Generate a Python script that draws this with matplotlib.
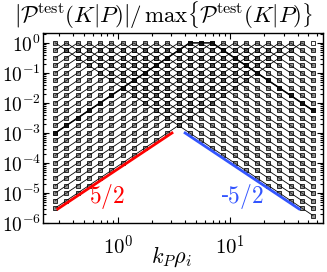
import matplotlib
matplotlib.use('Agg')
import matplotlib.pyplot as plt

plt.rcParams['mathtext.fontset'] = 'cm'
plt.rcParams['font.family'] = ['DejaVu Serif']

# k_P rho_i grid (24 columns)
kp = [0.2754, 0.3467, 0.4365, 0.5495, 0.6918, 0.8710, 1.0965, 1.3804,
      1.7378, 2.1878, 2.7542, 3.4674, 4.3652, 5.4954, 6.9183, 8.7096,
      10.965, 13.804, 17.378, 21.878, 27.542, 34.674, 43.652, 54.954]

# normalised values (one row per 1/4 decade)
levels = [1.0, 5.623e-1, 3.162e-1, 1.778e-1, 1e-1, 5.623e-2, 3.162e-2,
          1.778e-2, 1e-2, 5.623e-3, 3.162e-3, 1.778e-3, 1e-3, 5.623e-4,
          3.162e-4, 1.778e-4, 1e-4, 5.623e-5, 3.162e-5, 1.778e-5, 1e-5,
          5.623e-6, 3.162e-6, 1.778e-6]

# column where each K curve peaks
peak_cols = list(range(23))
lone_col = 23

# highlighted curve (row index per column)
dark_rows = [12, 11, 10, 9, 8, 7, 6, 5, 4, 3, 2, 1, 0, 0,
             0, 1, 2, 3, 4, 5, 6, 7, 8, 9]

# power law guides
red_x = [0.29, 3.03]
red_y = [2.95e-6, 1.0e-3]
blue_x = [3.97, 41.3]
blue_y = [1.0e-3, 2.95e-6]

xticks = [1, 10]
xticklabels = [r'$10^{0}$', r'$10^{1}$']
yticks = [1e0, 1e-1, 1e-2, 1e-3, 1e-4, 1e-5, 1e-6]
yticklabels = [r'$10^{0}$', r'$10^{-1}$', r'$10^{-2}$', r'$10^{-3}$',
               r'$10^{-4}$', r'$10^{-5}$', r'$10^{-6}$']

fig = plt.figure(figsize=(3.27, 2.72), dpi=100)
ax = fig.add_axes([0.1315, 0.18, 0.8565, 0.699])

mfc = (0.25, 0.25, 0.25, 0.55)
for j in peak_cols:
    ys = [levels[abs(i - j)] for i in range(len(kp))]
    ax.plot(kp, ys, '-', color='k', lw=0.6, marker='s', ms=3.2,
            mfc=mfc, mec='k', mew=0.55, zorder=2)
ax.plot([kp[lone_col]], [levels[0]], 's', ms=3.2, mfc=(1, 1, 1, 1),
        mec='k', mew=0.55, zorder=2)

ax.plot(kp, [levels[r] for r in dark_rows], '-', color='k', lw=1.1,
        marker='s', ms=3.2, mfc=(0.05, 0.05, 0.05, 0.85), mec='k',
        mew=0.55, zorder=3)

ax.plot(red_x, red_y, '-', color='red', lw=2.0, zorder=4)
ax.plot(blue_x, blue_y, '-', color='#3355ff', lw=2.0, zorder=4)
ax.text(0.80, 7.4e-6, r'$5/2$', color='red', fontsize=17,
        ha='center', va='center')
ax.text(12.8, 7.4e-6, r'-$5/2$', color='#3355ff', fontsize=17,
        ha='center', va='center')

ax.set_xscale('log')
ax.set_yscale('log')
ax.set_xlim(0.214, 67.6)
ax.set_ylim(1e-6, 2.15)
ax.set_xticks(xticks)
ax.set_xticklabels(xticklabels, fontsize=15)
ax.set_yticks(yticks)
ax.set_yticklabels(yticklabels, fontsize=14)
ax.tick_params(which='both', direction='in', top=True, right=True,
               width=0.8)
ax.tick_params(which='major', length=4, pad=1.5)
ax.tick_params(which='minor', length=2)
ax.tick_params(axis='x', which='major', pad=8)
for s in ax.spines.values():
    s.set_linewidth(1.0)

ax.set_xlabel(r'$k_P\rho_i$', fontsize=16, labelpad=0)
ax.xaxis.set_label_coords(0.46, -0.115)

fig.text(0.5, 0.945,
         r'$\left|\mathcal{P}^{\rm test}(K|P)\right|/\,\max\left\{\mathcal{P}^{\rm test}(K|P)\right\}$',
         fontsize=16.5, ha='center', va='center')

fig.savefig('out.png', dpi=100)
